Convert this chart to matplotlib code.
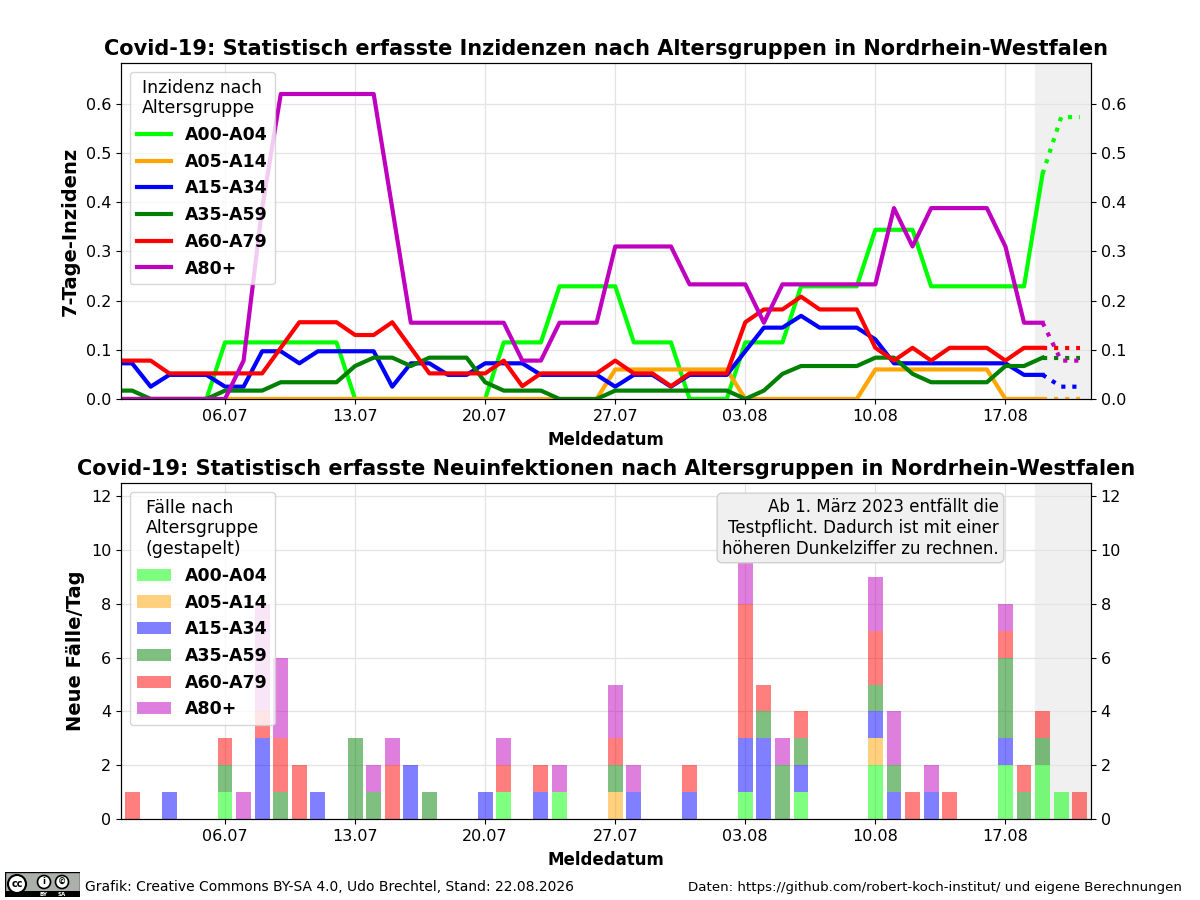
import datetime as dt

import matplotlib
matplotlib.use("Agg")
import matplotlib.pyplot as plt
import matplotlib.dates as mdates
from matplotlib.patches import Rectangle, Circle

# --- data: 30.06. (clipped left edge) to 21.08.2026 -------------------------
start = dt.date(2026, 6, 30)
dates = [start + dt.timedelta(days=i) for i in range(53)]
groups = ["A00-A04", "A05-A14", "A15-A34", "A35-A59", "A60-A79", "A80+"]
colors = ["lime", "orange", "blue", "green", "red", "m"]

# 7-Tage-Inzidenz per age group
inz_a00 = [0, 0, 0, 0, 0, 0, 0.115, 0.115, 0.115, 0.115, 0.115, 0.115, 0.115,
           0, 0, 0, 0, 0, 0, 0, 0, 0.115, 0.115, 0.115, 0.229, 0.229, 0.229,
           0.229, 0.115, 0.115, 0.115, 0, 0, 0, 0.115, 0.115, 0.115, 0.229,
           0.229, 0.229, 0.229, 0.344, 0.344, 0.344, 0.229, 0.229, 0.229,
           0.229, 0.229, 0.229, 0.458, 0.573, 0.573]
inz_a05 = [0] * 27 + [0.06] * 7 + [0] * 7 + [0.06] * 7 + [0] * 5
inz_a15 = [0.0725, 0.0725, 0.025, 0.049, 0.049, 0.049, 0.025, 0.025, 0.097,
           0.097, 0.0725, 0.097, 0.097, 0.097, 0.097, 0.025, 0.0725, 0.0725,
           0.049, 0.049, 0.0725, 0.0725, 0.0725, 0.049, 0.049, 0.049, 0.049,
           0.025, 0.049, 0.049, 0.025, 0.049, 0.049, 0.049, 0.097, 0.145,
           0.145, 0.169, 0.145, 0.145, 0.145, 0.121, 0.0725, 0.0725, 0.0725,
           0.0725, 0.0725, 0.0725, 0.0725, 0.049, 0.049, 0.025, 0.025]
inz_a35 = [0.017, 0.017, 0, 0, 0, 0, 0.017, 0.017, 0.017, 0.034, 0.034, 0.034,
           0.034, 0.067, 0.084, 0.084, 0.067, 0.084, 0.084, 0.084, 0.034,
           0.017, 0.017, 0.017, 0, 0, 0, 0.017, 0.017, 0.017, 0.017, 0.017,
           0.017, 0.017, 0, 0.017, 0.051, 0.067, 0.067, 0.067, 0.067, 0.084,
           0.084, 0.051, 0.034, 0.034, 0.034, 0.034, 0.067, 0.067, 0.084,
           0.084, 0.084]
inz_a60 = [0.078, 0.078, 0.078, 0.052, 0.052, 0.052, 0.052, 0.052, 0.052,
           0.104, 0.156, 0.156, 0.156, 0.13, 0.13, 0.156, 0.104, 0.052, 0.052,
           0.052, 0.052, 0.078, 0.026, 0.052, 0.052, 0.052, 0.052, 0.078,
           0.052, 0.052, 0.026, 0.052, 0.052, 0.052, 0.156, 0.182, 0.182,
           0.208, 0.182, 0.182, 0.182, 0.104, 0.078, 0.104, 0.078, 0.104,
           0.104, 0.104, 0.078, 0.104, 0.104, 0.104, 0.104]
inz_a80 = [0, 0, 0, 0, 0, 0, 0, 0.078, 0.388, 0.62, 0.62, 0.62, 0.62, 0.62,
           0.62, 0.388, 0.155, 0.155, 0.155, 0.155, 0.155, 0.155, 0.078, 0.078,
           0.155, 0.155, 0.155, 0.31, 0.31, 0.31, 0.31, 0.233, 0.233, 0.233,
           0.233, 0.155, 0.233, 0.233, 0.233, 0.233, 0.233, 0.233, 0.388,
           0.31, 0.388, 0.388, 0.388, 0.388, 0.31, 0.155, 0.155, 0.078, 0.078]

# Neue Fälle pro Tag per age group
cases_a00 = [0, 0, 0, 0, 0, 0, 1, 0, 0, 0, 0, 0, 0, 0, 0, 0, 0, 0, 0, 0, 0, 1,
             0, 0, 1, 0, 0, 0, 0, 0, 0, 0, 0, 0, 1, 0, 0, 1, 0, 0, 0, 2, 0, 0,
             0, 0, 0, 0, 2, 0, 2, 1, 0]
cases_a05 = [0, 0, 0, 0, 0, 0, 0, 0, 0, 0, 0, 0, 0, 0, 0, 0, 0, 0, 0, 0, 0, 0,
             0, 0, 0, 0, 0, 1, 0, 0, 0, 0, 0, 0, 0, 0, 0, 0, 0, 0, 0, 1, 0, 0,
             0, 0, 0, 0, 0, 0, 0, 0, 0]
cases_a15 = [0, 0, 0, 1, 0, 0, 0, 0, 3, 0, 0, 1, 0, 0, 0, 0, 2, 0, 0, 0, 1, 0,
             0, 1, 0, 0, 0, 0, 1, 0, 0, 1, 0, 0, 2, 3, 0, 1, 0, 0, 0, 1, 1, 0,
             1, 0, 0, 0, 1, 0, 0, 0, 0]
cases_a35 = [0, 0, 0, 0, 0, 0, 1, 0, 0, 1, 0, 0, 0, 3, 1, 0, 0, 1, 0, 0, 0, 0,
             0, 0, 0, 0, 0, 1, 0, 0, 0, 0, 0, 0, 0, 1, 2, 1, 0, 0, 0, 1, 1, 0,
             0, 0, 0, 0, 3, 1, 1, 0, 0]
cases_a60 = [0, 1, 0, 0, 0, 0, 1, 0, 1, 2, 2, 0, 0, 0, 0, 2, 0, 0, 0, 0, 0, 1,
             0, 1, 0, 0, 0, 1, 0, 0, 0, 1, 0, 0, 5, 1, 0, 1, 0, 0, 0, 2, 0, 1,
             0, 1, 0, 0, 1, 1, 1, 0, 1]
cases_a80 = [0, 0, 0, 0, 0, 0, 0, 1, 4, 3, 0, 0, 0, 0, 1, 1, 0, 0, 0, 0, 0, 1,
             0, 0, 1, 0, 0, 2, 1, 0, 0, 0, 0, 0, 2, 0, 1, 0, 0, 0, 0, 2, 2, 0,
             1, 0, 0, 0, 1, 0, 0, 0, 0]

incidences = [inz_a00, inz_a05, inz_a15, inz_a35, inz_a60, inz_a80]
cases = [cases_a00, cases_a05, cases_a15, cases_a35, cases_a60, cases_a80]
n_prelim = 3  # last days are preliminary -> dotted, shaded

plt.rcParams["font.family"] = ["DejaVu Sans"]

fig = plt.figure(figsize=(12, 9), dpi=100)
ax1 = fig.add_axes([0.1008, 0.5567, 0.8083, 0.3733])
ax2 = fig.add_axes([0.1008, 0.09, 0.8083, 0.3733])

xmin = mdates.date2num(dates[1]) - 0.6
xmax = mdates.date2num(dates[-1]) + 0.6
shade_from = mdates.date2num(dates[-n_prelim]) - 0.4

grid_color = "#e3e3e3"


def style_axes(ax, ymax, ylabel, title):
    ax.set_xlim(xmin, xmax)
    ax.set_ylim(0, ymax)
    ax.axvspan(shade_from, xmax, color="#f0f0f0", zorder=0)
    ax.grid(True, color=grid_color, linewidth=0.9, zorder=0.5)
    ax.set_axisbelow(True)
    ax.xaxis.set_major_locator(mdates.WeekdayLocator(byweekday=mdates.MO))
    ax.xaxis.set_major_formatter(mdates.DateFormatter("%d.%m"))
    ax.tick_params(labelsize=11.5)
    ax.set_ylabel(ylabel, fontsize=14, fontweight="bold")
    ax.set_xlabel("Meldedatum", fontsize=12, fontweight="bold", labelpad=5)
    ax.set_title(title, fontsize=15, fontweight="bold")
    twin = ax.twinx()
    twin.set_ylim(ax.get_ylim())
    twin.set_yticks(ax.get_yticks())
    twin.set_ylim(0, ymax)
    twin.tick_params(labelsize=11.5)
    return twin


# --- top: 7-Tage-Inzidenz ---------------------------------------------------
cut = len(dates) - n_prelim
for name, col, vals in zip(groups, colors, incidences):
    ax1.plot(dates[:cut + 1], vals[:cut + 1], color=col, lw=3, label=name, zorder=3)
    ax1.plot(dates[cut:], vals[cut:], color=col, lw=3, ls=":", zorder=3)
style_axes(ax1, 0.683, "7-Tage-Inzidenz",
           "Covid-19: Statistisch erfasste Inzidenzen nach Altersgruppen in Nordrhein-Westfalen")
ax1.set_yticks([0, 0.1, 0.2, 0.3, 0.4, 0.5, 0.6])
leg1 = ax1.legend(title="Inzidenz nach\nAltersgruppe", loc="upper left",
                  prop={"weight": "bold", "size": 12.5}, title_fontsize=12.5)
leg1.set_zorder(10)

# --- bottom: stacked new cases ----------------------------------------------
bottom = [0] * len(dates)
for name, col, vals in zip(groups, colors, cases):
    ax2.bar(dates, vals, bottom=bottom, width=0.8, color=col, alpha=0.5,
            label=name, zorder=2)
    bottom = [b + v for b, v in zip(bottom, vals)]
style_axes(ax2, 12.5, "Neue Fälle/Tag",
           "Covid-19: Statistisch erfasste Neuinfektionen nach Altersgruppen in Nordrhein-Westfalen")
leg2 = ax2.legend(title="Fälle nach\nAltersgruppe\n(gestapelt)", loc="upper left",
                  prop={"weight": "bold", "size": 12.5}, title_fontsize=12.5)
leg2.set_zorder(10)
ax2.text(0.905, 0.955,
         "Ab 1. März 2023 entfällt die\nTestpflicht. Dadurch ist mit einer\nhöheren Dunkelziffer zu rechnen.",
         transform=ax2.transAxes, ha="right", va="top", fontsize=12, zorder=11,
         bbox=dict(boxstyle="round", facecolor="#f0f0f0", edgecolor="#d0d0d0"))

# --- footer -----------------------------------------------------------------
badge = fig.add_axes([5 / 1200, 3 / 900, 75 / 1200, 25 / 900])
badge.set_xlim(0, 75)
badge.set_ylim(0, 25)
badge.axis("off")
badge.add_patch(Rectangle((0, 0), 75, 25, facecolor="#abb1aa", edgecolor="black", lw=1))
badge.add_patch(Rectangle((0, 0), 75, 6, facecolor="black"))
badge.add_patch(Circle((12, 13), 9, facecolor="white", edgecolor="black", lw=1.5))
badge.text(12, 13, "cc", ha="center", va="center", fontsize=7, fontweight="bold")
for cx, sym in [(39, "i"), (57, "©")]:
    badge.add_patch(Circle((cx, 15), 6.5, facecolor="white", edgecolor="black", lw=1.2))
    badge.text(cx, 15, sym, ha="center", va="center", fontsize=6, fontweight="bold")
badge.text(39, 3, "BY", ha="center", va="center", fontsize=4, color="white", fontweight="bold")
badge.text(57, 3, "SA", ha="center", va="center", fontsize=4, color="white", fontweight="bold")

fig.text(85 / 1200, 1 - 887 / 900,
         "Grafik: Creative Commons BY-SA 4.0, Udo Brechtel, Stand: 22.08.2026",
         ha="left", va="center", fontsize=10)
fig.text(1182 / 1200, 1 - 887 / 900,
         "Daten: https://github.com/robert-koch-institut/ und eigene Berechnungen",
         ha="right", va="center", fontsize=9.6)

fig.savefig("out.png", dpi=100)
